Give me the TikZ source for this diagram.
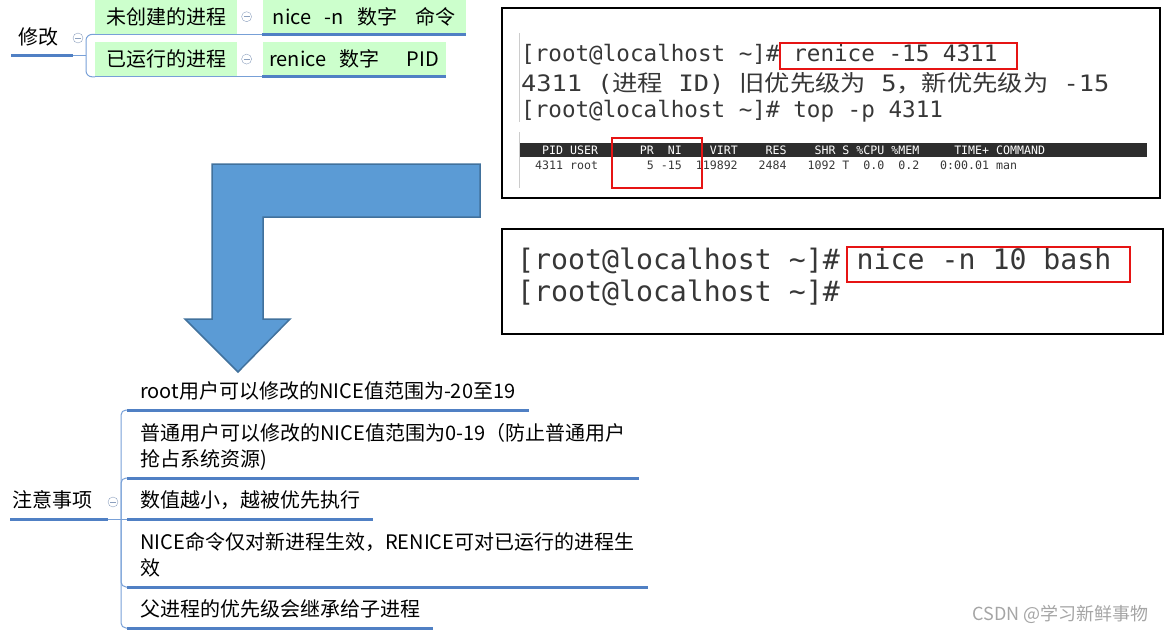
\documentclass[tikz,border=0pt]{standalone}
\usepackage{fontspec}
\usepackage{xcolor}
\usepackage{tikz}
\usetikzlibrary{positioning}
\newfontfamily\cjk{Noto Sans CJK SC}
\newfontfamily\termfont{DejaVu Sans Mono}
\definecolor{mmblue}{RGB}{80,128,196}
\definecolor{mmthin}{RGB}{120,160,215}
\definecolor{mmgreen}{RGB}{204,255,204}
\definecolor{foldgray}{RGB}{140,160,190}
\definecolor{arrowfill}{RGB}{91,155,213}
\definecolor{arrowline}{RGB}{65,113,156}
\definecolor{hlred}{RGB}{230,20,20}
\definecolor{termtext}{RGB}{55,55,55}
\definecolor{barfill}{RGB}{45,45,45}
\definecolor{wmgray}{RGB}{165,165,165}

\begin{document}
\begin{tikzpicture}[
  x=1pt, y=-1pt,
  topic/.style={font=\cjk\fontsize{20}{26.5}\selectfont, inner ysep=7pt,
                text depth=4pt, align=left, anchor=south west},
  leaf/.style={topic, inner xsep=13pt},
  gbox/.style={font=\cjk\fontsize{20}{24}\selectfont, fill=mmgreen,
               minimum height=35pt, inner sep=0pt},
  fold/.style={circle, draw=foldgray, minimum size=10pt, inner sep=0pt,
               path picture={\draw[foldgray]
                 ([xshift=-3pt]path picture bounding box.center) --
                 ([xshift=3pt]path picture bounding box.center);}},
  thickln/.style={draw=mmblue, line width=3pt},
  thinln/.style={draw=mmthin, line width=1pt},
  shot/.style={draw=black, line width=2pt},
  hl/.style={draw=hlred, line width=1.5pt},
  term/.style={font=\termfont\fontsize{22.6}{27}\selectfont, text=termtext,
               anchor=west, inner sep=0pt},
  bigterm/.style={term, font=\termfont\fontsize{28.2}{32}\selectfont},
  tab/.style={font=\termfont\fontsize{11.6}{13}\selectfont, anchor=west, inner sep=0pt},
  wmark/.style={font=\cjk\fontsize{18}{20}\selectfont, text=wmgray, anchor=east},
]
\useasboundingbox (0,0) rectangle (1167,634);

% modify branch
\node[topic, inner xsep=7pt] (modify) at (11,56) {修改};
\node[fold] (fm) at (78,38) {};
\coordinate (hubm) at (86,56);
\node[gbox, minimum width=142pt, anchor=north west] (c1) at (95,-1) {未创建的进程};
\node[gbox, minimum width=142pt, below=7pt of c1] (c2) {已运行的进程};
\node[gbox, minimum width=203pt, right=25pt of c1] (d1) {nice~~~-n~~~数字~~~~命令};
\node[gbox, minimum width=183pt, right=25pt of c2] (d2) {renice~~~数字~~~~~~PID};
\node[fold, right=4pt of c1] (f1) {};
\node[fold, right=4pt of c2] (f2) {};
\draw[thickln] (modify.south west) -- (modify.south west -| fm.west);
\draw[thinln] (modify.south west -| fm.west) -- (hubm);
\draw[thinln, rounded corners=6pt] (hubm) |- (c1.south west);
\draw[thinln, rounded corners=6pt] (hubm) |- (c2.south west);
\draw[thinln] (c1.south west) -- (d1.south west);
\draw[thinln] (c2.south west) -- (d2.south west);
\draw[thickln] (d1.south west) -- (d1.south east);
\draw[thickln] (d2.south west) -- (d2.south east);

% big arrow
\draw[fill=arrowfill, draw=arrowline, line width=1.5pt]
  (480,164) -- (212,164) -- (212,319) -- (185,319) -- (238,372)
  -- (290,319) -- (263,319) -- (263,217) -- (480,217) -- cycle;

% screenshot renice
\draw[shot] (502,8) rectangle (1160,198);
\draw[gray!40, line width=1pt] (519,33) -- (519,122);
\draw[gray!40, line width=1pt] (519,132) -- (519,188);
\node[term] (l1) at (521,55) {[root@localhost \string~]\# renice -15 4311};
\node[term, xscale=1.12] (l2) at (521,83) {4311 ({\cjk 进程} ID) {\cjk 旧优先级为} 5{\cjk ，新优先级为} -15};
\node[term] (l3) at (521,111) {[root@localhost \string~]\# top -p 4311};
\fill[barfill] (520,143) rectangle (1147,157);
\node[tab, text=white] (hdr) at (542,150) {PID~USER~~~~~~PR~~NI~~~~VIRT~~~~RES~~~~SHR~S~\%CPU~\%MEM~~~~~TIME+~COMMAND};
\node[tab, text=termtext] (row) at (535,165) {4311~root~~~~~~~5~-15~~119892~~~2484~~~1092~T~~0.0~~0.2~~~0:00.01~man};
\draw[hl] (780,43) rectangle (1017,69);
\draw[hl] (612,138) rectangle (702,188);

% screenshot nice
\draw[shot] (502,229) rectangle (1163,334);
\node[bigterm] (m1) at (517,261) {[root@localhost \string~]\# nice -n 10 bash};
\node[bigterm] (m2) at (517,293) {[root@localhost \string~]\#};
\draw[hl] (847,247) rectangle (1130,282);

% notes branch
\node[topic, inner xsep=2pt] (care) at (10,519) {注意事项};
\node[fold] (fc) at (113,502) {};
\coordinate (hubc) at (121,519);
\node[leaf] (n1) at (127,410) {root用户可以修改的NICE值范围为-20至19};
\node[leaf] (n2) at (127,478) {普通用户可以修改的NICE值范围为0-19（防止普通用户\\抢占系统资源)};
\node[leaf] (n3) at (127,519) {数值越小，越被优先执行};
\node[leaf] (n4) at (127,587) {NICE命令仅对新进程生效，RENICE可对已运行的进程生\\效};
\node[leaf] (n5) at (127,628) {父进程的优先级会继承给子进程};
\draw[thickln] (care.south west) -- (care.south west -| fc.west);
\draw[thinln] (care.south west -| fc.west) -- (hubc);
\draw[thinln, rounded corners=5pt] (hubc) |- (n1.south west);
\draw[thinln, rounded corners=5pt] (hubc) |- (n2.south west);
\draw[thinln] (hubc) -- (n3.south west);
\draw[thinln, rounded corners=5pt] (hubc) |- (n4.south west);
\draw[thinln, rounded corners=5pt] (hubc) |- (n5.south west);
\draw[thickln] (n1.south west) -- (n1.south east);
\draw[thickln] (n2.south west) -- (n2.south east);
\draw[thickln] (n3.south west) -- (n3.south east);
\draw[thickln] (n4.south west) -- (n4.south east);
\draw[thickln] (n5.south west) -- (n5.south east);

\node[wmark] (wm) at (1152,614) {CSDN @学习新鲜事物};
\end{tikzpicture}
\end{document}
